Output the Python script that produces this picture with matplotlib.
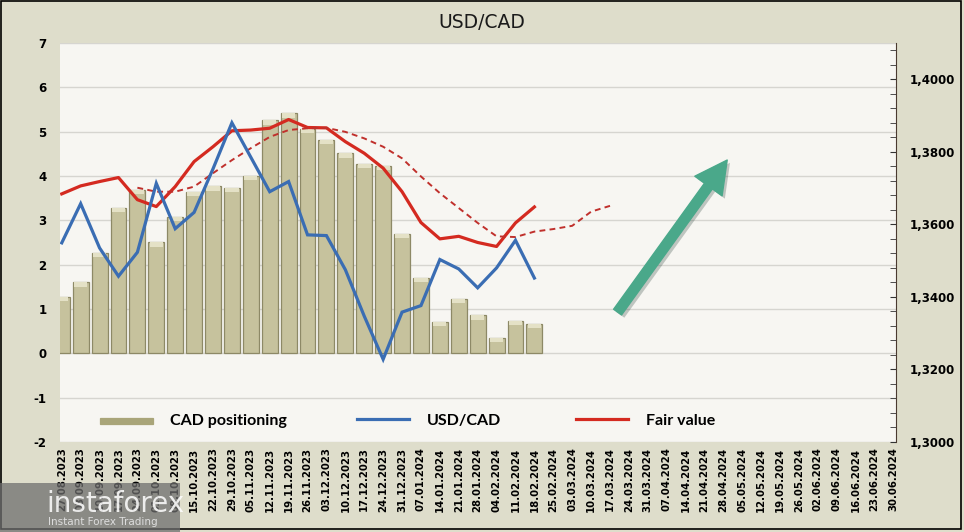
import numpy as np
import pandas as pd
import matplotlib
matplotlib.use("Agg")
import matplotlib.pyplot as plt
from matplotlib.ticker import MultipleLocator, FuncFormatter
from matplotlib.patches import Rectangle
from matplotlib.legend import Legend
import matplotlib.patheffects as pe

plt.rcParams["axes.unicode_minus"] = False

# weekly dates on the x axis
dates = pd.date_range("2023-08-27", "2024-06-30", freq="7D")
date_labels = [d.strftime("%d.%m.%Y") for d in dates]

# CAD positioning (left axis)
cad_pos = [1.27, 1.60, 2.27, 3.28, 3.69, 2.50, 3.08, 3.65, 3.77, 3.74,
           4.00, 5.26, 5.41, 5.07, 4.82, 4.51, 4.28, 4.23, 2.70, 1.71,
           0.71, 1.23, 0.86, 0.35, 0.73, 0.67]

# USD/CAD (right axis)
usdcad = [1.3549, 1.3657, 1.3535, 1.3457, 1.3523, 1.3713, 1.3588, 1.3633,
          1.3753, 1.3880, 1.3785, 1.3690, 1.3718, 1.3571, 1.3569, 1.3475,
          1.3347, 1.3228, 1.3358, 1.3376, 1.3503, 1.3477, 1.3425, 1.3480,
          1.3556, 1.3452]

# fair value (right axis)
fair = [1.3684, 1.3706, 1.3718, 1.3729, 1.3668, 1.3649, 1.3704, 1.3773,
        1.3814, 1.3858, 1.3860, 1.3865, 1.3889, 1.3867, 1.3866, 1.3828,
        1.3796, 1.3755, 1.3690, 1.3605, 1.3560, 1.3567, 1.3550, 1.3539,
        1.3604, 1.3648]

# smoothed fair value, starts at week index 4
fair_smooth_start = 4
fair_smooth = [1.3701, 1.3690, 1.3690, 1.3704, 1.3741, 1.3777, 1.3810,
               1.3841, 1.3860, 1.3865, 1.3866, 1.3855, 1.3837, 1.3814,
               1.3782, 1.3732, 1.3686, 1.3645, 1.3604, 1.3567, 1.3565,
               1.3580, 1.3587, 1.3596, 1.3635, 1.3651]

outer_bg = "#deddcb"
plot_bg = "#f7f6f2"

fig = plt.figure(figsize=(9.64, 5.32), dpi=100)
fig.patch.set_facecolor(outer_bg)
ax = fig.add_axes([0.0625, 0.1692, 0.867, 0.7500])
ax.set_facecolor(plot_bg)
ax2 = ax.twinx()

x = np.arange(len(date_labels))
xb = x[:len(cad_pos)]

bars = ax.bar(xb, cad_pos, width=0.84, color="#c6c29d", edgecolor="#8d8966",
              linewidth=0.9, zorder=2, label="CAD positioning")
# light bevel on the bar tops
ax.bar(xb, [0.1] * len(cad_pos), bottom=np.array(cad_pos) - 0.1, width=0.7,
       color="#e4e1c6", linewidth=0, zorder=3)

ax.set_ylim(-2, 7)
ax.set_xlim(-0.08, 44.13)
ax.yaxis.set_major_locator(MultipleLocator(1))
ax.grid(axis="y", color="#d6d5d0", linewidth=1.0, zorder=0)
ax.set_axisbelow(True)
for s in ["left", "top", "right", "bottom"]:
    ax.spines[s].set_visible(False)
ax.tick_params(axis="y", length=0, pad=10, labelsize=8.5)
ax.set_xticks(x)
ax.set_xticklabels(date_labels, rotation=90, fontsize=7.3, fontweight="bold")
ax.tick_params(axis="x", length=0, pad=4)
for lab in ax.get_yticklabels():
    lab.set_fontweight("bold")

l_usd, = ax2.plot(xb, usdcad, color="#3a6db3", linewidth=2.3,
                  solid_joinstyle="miter", zorder=5, label="USD/CAD")
l_fair, = ax2.plot(xb, fair, color="#d42a20", linewidth=2.3, zorder=4,
                   label="Fair value")
xs = np.arange(fair_smooth_start, fair_smooth_start + len(fair_smooth))
ax2.plot(xs, fair_smooth, color="#c0302c", linewidth=1.4,
         linestyle=(0, (3, 2.2)), zorder=4)

ax2.set_ylim(1.30, 1.41)
ax2.yaxis.set_major_locator(MultipleLocator(0.02))
ax2.yaxis.set_minor_locator(MultipleLocator(0.004))
ax2.yaxis.set_major_formatter(FuncFormatter(lambda v, p: f"{v:.4f}".replace(".", ",")))
ax2.tick_params(axis="y", which="both", direction="in", length=4,
                color="#333333", pad=10, labelsize=8.5)
for lab in ax2.get_yticklabels():
    lab.set_fontweight("bold")
for s in ["left", "top", "bottom"]:
    ax2.spines[s].set_visible(False)
ax2.spines["right"].set_color("#4a3a30")

# legend, three separate entries spread across the bottom of the plot
leg_font = {"family": "Lato", "weight": "bold", "size": 11.5}
positions = [0.040, 0.347, 0.609]
for h, pos in zip([bars, l_usd, l_fair], positions):
    lg = Legend(ax2, [h], [h.get_label()], loc="center left",
                bbox_to_anchor=(pos, 0.053), frameon=False,
                prop=leg_font, handlelength=3.3, handletextpad=1.1,
                borderaxespad=0)
    if h is bars:
        for p in lg.get_patches():
            p.set_height(4)
            p.set_y(p.get_y() + 1)
            p.set_facecolor("#a9a579")
            p.set_edgecolor("#a9a579")
    ax2.add_artist(lg)

# green arrow
ax.annotate("", xy=(35.2, 4.36), xytext=(29.4, 0.93),
            arrowprops=dict(arrowstyle="simple,head_length=1.05,head_width=1.1,tail_width=0.32",
                            mutation_scale=22, color="#4aa88a", shrinkA=0, shrinkB=0,
                            path_effects=[pe.SimplePatchShadow(offset=(2, -2), alpha=0.25),
                                          pe.Normal()]),
            zorder=6)

fig.text(0.5, 0.958, "USD/CAD", ha="center", va="center", fontsize=13.5,
         color="#1a1a1a")

# outer frame
fig.patches.append(Rectangle((0.0015, 0.006), 0.995, 0.992,
                             transform=fig.transFigure, fill=False,
                             edgecolor="black", linewidth=1.2))

# watermark
fig.patches.append(Rectangle((0.0, 0.0), 0.187, 0.092, transform=fig.transFigure,
                             facecolor="#6e6e6e", alpha=0.75, edgecolor="none",
                             zorder=10))
fig.text(0.048, 0.052, "instaforex", fontsize=20, color="white", alpha=0.85,
         va="center", zorder=11)
fig.text(0.05, 0.018, "Instant Forex Trading", fontsize=7.5, color="#dddddd",
         va="center", zorder=11)

fig.savefig("out.png", dpi=100, facecolor=fig.get_facecolor())
